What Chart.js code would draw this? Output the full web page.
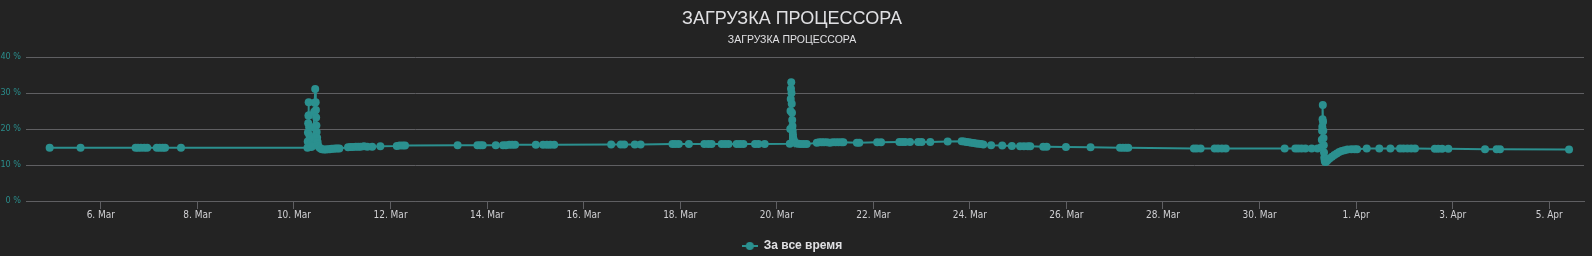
<!DOCTYPE html>
<html>
<head>
<meta charset="utf-8">
<title>ЗАГРУЗКА ПРОЦЕССОРА</title>
<script src="https://cdn.jsdelivr.net/npm/chart.js@4/dist/chart.umd.min.js"></script>
<style>
  html, body { margin: 0; padding: 0; background: #232323; }
  #cpu { display: block; }
</style>
</head>
<body>
<canvas id="cpu" width="1592" height="256"></canvas>
<script>
// time of each sample, as day of March (32 = 1 Apr, 36 = 5 Apr)
const sampleDays = [
  4.94, 5.58,
  6.72, 6.77, 6.83, 6.90, 6.96, 7.16, 7.22, 7.28, 7.33, 7.66,
  10.28, 10.285, 10.29, 10.295, 10.30, 10.305, 10.31, 10.315, 10.32, 10.33, 10.345, 10.36, 10.38,
  10.40, 10.41, 10.42, 10.43, 10.44, 10.45, 10.455, 10.46, 10.465, 10.47, 10.48, 10.49, 10.50, 10.52,
  10.55, 10.58, 10.62, 10.66, 10.70, 10.74, 10.78, 10.82, 10.86, 10.90, 10.94,
  11.12, 11.17, 11.22, 11.28, 11.33, 11.38, 11.45, 11.52, 11.62, 11.79,
  12.13, 12.19, 12.25, 12.30,
  13.39, 13.80, 13.86, 13.91, 14.18, 14.33, 14.39, 14.46, 14.52, 14.58,
  15.01, 15.16, 15.24, 15.31, 15.39,
  16.57, 16.77, 16.84, 17.06, 17.18, 17.84, 17.90, 17.97, 18.18,
  18.50, 18.58, 18.65, 18.86, 18.93, 19.00, 19.17, 19.24, 19.31, 19.55, 19.62, 19.75,
  20.27, 20.28, 20.285, 20.29, 20.295, 20.30, 20.305, 20.31, 20.315, 20.32, 20.325, 20.33,
  20.335, 20.34, 20.35, 20.36, 20.38, 20.41, 20.45, 20.50, 20.56, 20.62,
  20.83, 20.88, 20.93, 20.98, 21.04, 21.10, 21.16, 21.22, 21.28, 21.34, 21.38,
  21.66, 21.71, 22.08, 22.16, 22.54, 22.60, 22.66, 22.76, 22.93, 23.00, 23.18, 23.54,
  23.83, 23.88, 23.93, 23.98, 24.03, 24.08, 24.13, 24.18, 24.23, 24.28,
  24.44, 24.67, 24.87, 25.04, 25.12, 25.20, 25.25, 25.52, 25.59, 25.99, 26.50,
  27.11, 27.17, 27.23, 27.28,
  28.64, 28.70, 28.78, 29.07, 29.14, 29.22, 29.30,
  30.52, 30.74, 30.80, 30.87, 30.95, 31.08, 31.20,
  31.28, 31.29, 31.295, 31.30, 31.305, 31.31, 31.315, 31.32, 31.325, 31.33, 31.335, 31.34,
  31.35, 31.36, 31.38, 31.41, 31.45, 31.50, 31.55, 31.60, 31.65, 31.70, 31.76, 31.82, 31.90, 31.97, 32.02,
  32.22, 32.48, 32.71, 32.91, 32.98, 33.06, 33.14, 33.22,
  33.63, 33.70, 33.78, 33.91, 34.67, 34.91, 34.98, 36.41
];

// CPU load, %
const cpuLoad = [
  14.8, 14.8,
  14.8, 14.8, 14.8, 14.8, 14.8, 14.8, 14.8, 14.8, 14.8, 14.8,
  14.8, 16.5, 19.0, 21.6, 23.7, 27.4, 23.8, 20.5, 18.2, 16.6, 15.4, 15.0, 15.3,
  17.5, 20.5, 24.8, 27.3, 31.1, 27.4, 25.3, 23.2, 21.0, 19.2, 17.6, 16.4, 15.4, 14.9,
  14.6, 14.4, 14.3, 14.3, 14.4, 14.4, 14.5, 14.5, 14.6, 14.6, 14.6,
  14.9, 15.0, 15.0, 15.1, 15.1, 15.1, 15.2, 15.1, 15.1, 15.2,
  15.3, 15.4, 15.4, 15.4,
  15.5, 15.5, 15.5, 15.5, 15.5, 15.5, 15.5, 15.6, 15.6, 15.6,
  15.6, 15.6, 15.6, 15.6, 15.6,
  15.7, 15.7, 15.7, 15.7, 15.7, 15.8, 15.8, 15.8, 15.8,
  15.8, 15.8, 15.8, 15.8, 15.8, 15.8, 15.8, 15.8, 15.8, 15.8, 15.8, 15.8,
  15.9, 20.0, 25.0, 28.3, 31.2, 33.0, 30.0, 27.0, 24.5, 22.5, 20.8, 19.5,
  18.5, 17.6, 17.0, 16.5, 16.2, 16.0, 15.9, 15.8, 15.8, 15.8,
  16.2, 16.3, 16.3, 16.3, 16.3, 16.2, 16.3, 16.3, 16.3, 16.3, 16.3,
  16.2, 16.2, 16.3, 16.3, 16.4, 16.4, 16.4, 16.4, 16.4, 16.4, 16.4, 16.5,
  16.6, 16.5, 16.4, 16.3, 16.2, 16.1, 16.0, 15.9, 15.8, 15.7,
  15.5, 15.4, 15.3, 15.2, 15.2, 15.2, 15.2, 15.1, 15.1, 15.0, 14.9,
  14.8, 14.8, 14.8, 14.8,
  14.6, 14.6, 14.6, 14.6, 14.6, 14.6, 14.6,
  14.6, 14.6, 14.6, 14.6, 14.6, 14.6, 14.6,
  15.0, 17.0, 19.5, 20.6, 22.7, 26.7, 22.0, 19.5, 17.5, 15.5, 13.5, 12.0,
  11.2, 10.8, 10.9, 11.3, 11.8, 12.3, 12.8, 13.2, 13.6, 13.9, 14.1, 14.3, 14.4, 14.4, 14.4,
  14.6, 14.6, 14.6, 14.6, 14.6, 14.6, 14.6, 14.6,
  14.5, 14.5, 14.5, 14.5, 14.4, 14.4, 14.4, 14.3
];

const tickDays = [6, 8, 10, 12, 14, 16, 18, 20, 22, 24, 26, 28, 30, 32, 34, 36];
const tickLabels = ['6. Mar', '8. Mar', '10. Mar', '12. Mar', '14. Mar', '16. Mar', '18. Mar', '20. Mar',
  '22. Mar', '24. Mar', '26. Mar', '28. Mar', '30. Mar', '1. Apr', '3. Apr', '5. Apr'];

const seriesName = 'За все время';
const teal = '#2b908f';
const gridCol = '#5f5f62';
const narrow = '"Liberation Sans Narrow", "DejaVu Sans Condensed", "Roboto", sans-serif';

// legend marker: short line with a dot, like the original
const marker = document.createElement('canvas');
marker.width = 16; marker.height = 10;
const mctx = marker.getContext('2d');
mctx.strokeStyle = teal; mctx.lineWidth = 2;
mctx.beginPath(); mctx.moveTo(0, 5); mctx.lineTo(16, 5); mctx.stroke();
mctx.fillStyle = teal;
mctx.beginPath(); mctx.arc(8, 5, 4, 0, Math.PI * 2); mctx.fill();

const bg = {
  id: 'bg',
  beforeDraw(chart) {
    const c = chart.ctx;
    c.save(); c.fillStyle = '#232323'; c.fillRect(0, 0, chart.width, chart.height); c.restore();
  },
  afterLayout(chart) {
    // nudge legend a bit lower
    chart.legend.top += 6; chart.legend.bottom += 6;
  }
};

new Chart(document.getElementById('cpu'), {
  type: 'line',
  data: {
    datasets: [{
      label: seriesName,
      data: sampleDays.map((d, i) => ({ x: d, y: cpuLoad[i] })),
      borderColor: teal,
      backgroundColor: teal,
      pointBackgroundColor: teal,
      pointBorderWidth: 0,
      pointRadius: 4,
      borderWidth: 2,
      tension: 0
    }]
  },
  options: {
    responsive: false,
    devicePixelRatio: 1,
    animation: false,
    layout: { padding: { left: 0, right: 8, top: 0, bottom: 0 } },
    plugins: {
      title: {
        display: true,
        text: 'ЗАГРУЗКА ПРОЦЕССОРА',
        color: '#E0E0E3',
        font: { family: '"Liberation Sans", Arial, sans-serif', size: 18, weight: 'normal' },
        padding: { top: 8, bottom: 0 }
      },
      subtitle: {
        display: true,
        text: 'ЗАГРУЗКА ПРОЦЕССОРА',
        color: '#E0E0E3',
        font: { family: '"Liberation Sans", Arial, sans-serif', size: 10.5, weight: 'normal' },
        padding: { top: 4.6, bottom: 10.2 }
      },
      legend: {
        position: 'bottom',
        labels: {
          color: '#E0E0E3',
          usePointStyle: true,
          pointStyle: marker,
          pointStyleWidth: 16,
          padding: 10,
          font: { family: '"Liberation Sans", Arial, sans-serif', size: 12, weight: 'bold' }
        }
      },
      tooltip: { enabled: false }
    },
    scales: {
      x: {
        type: 'linear',
        min: 4.45,
        max: 36.72,
        afterBuildTicks(scale) {
          scale.ticks = tickDays.map(v => ({ value: v }));
        },
        afterFit(scale) { scale.height = 23; },
        grid: { display: true, drawOnChartArea: false, drawTicks: true, tickLength: 8, color: gridCol },
        border: { display: true, color: gridCol },
        ticks: {
          autoSkip: false,
          maxRotation: 0,
          padding: 0,
          color: '#cfcfd2',
          font: { family: narrow, size: 10 },
          callback: v => tickLabels[tickDays.indexOf(v)]
        }
      },
      y: {
        min: 0,
        max: 40,
        afterFit(scale) { scale.width = 26; },
        grid: { color: gridCol, drawTicks: false },
        border: { display: false },
        ticks: {
          stepSize: 10,
          padding: 5,
          color: '#2a8c8b',
          font: { family: narrow, size: 9 },
          callback: v => v + ' %'
        }
      }
    }
  },
  plugins: [bg]
});
</script>
</body>
</html>
